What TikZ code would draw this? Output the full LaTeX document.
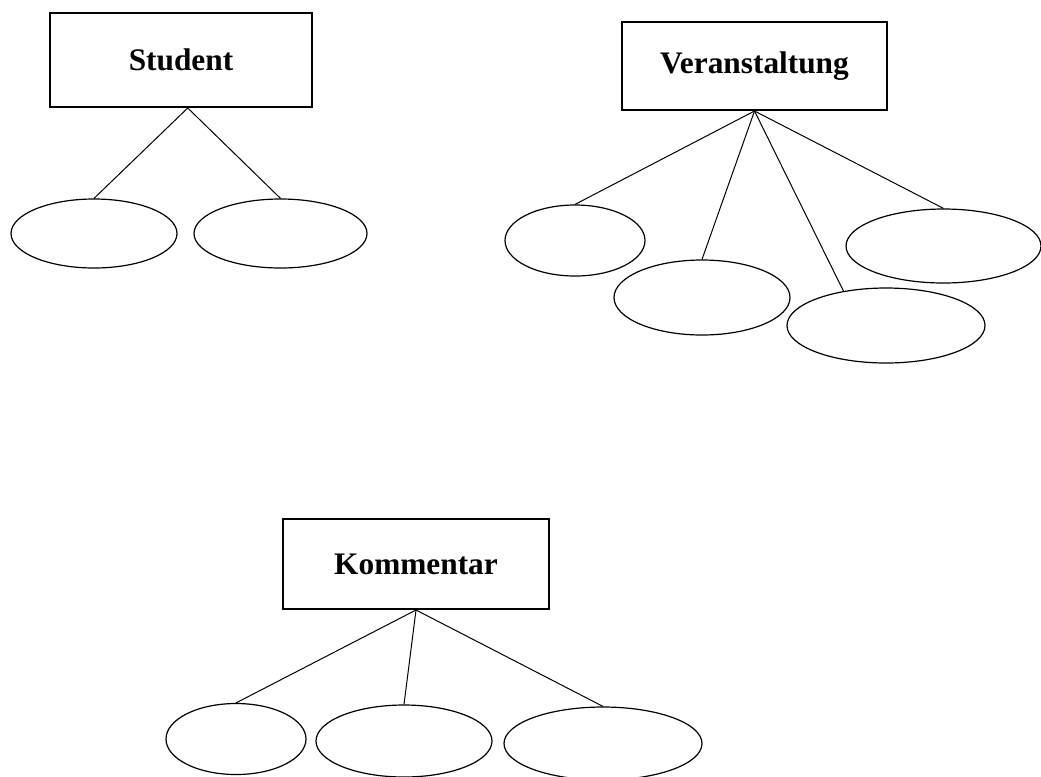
\documentclass[tikz,border=0pt]{standalone}
\usepackage{fontspec}
\setmainfont{Liberation Serif}
\usetikzlibrary{shapes.geometric}
\begin{document}
\begin{tikzpicture}[
        x=0.75pt, y=-0.75pt,
        bx/.style={draw, rectangle, line width=1.5pt, inner sep=0pt,
          font=\bfseries\fontsize{23.5}{28}\selectfont},
        el/.style={draw, ellipse, line width=0.9pt, inner sep=0pt},
        ed/.style={line width=0.75pt}
      ]
      \useasboundingbox (0,0) rectangle (1041,776);
      \clip (0,0) rectangle (1041,776);
      % entities
      \node[bx, minimum width=196.5pt, minimum height=70.5pt] (s) at (181,60) {Student};
      \node[bx, minimum width=198.75pt, minimum height=66pt] (v) at (754.5,66) {Veranstaltung};
      \node[bx, minimum width=199.5pt, minimum height=67.5pt] (k) at (416,564) {Kommentar};
      % attributes
      \node[el, minimum width=124.5pt, minimum height=51.75pt] (s1) at (94,233.5) {};
      \node[el, minimum width=129.75pt, minimum height=51.75pt] (s2) at (280.5,233.5) {};
      \node[el, minimum width=105pt, minimum height=53.25pt] (v1) at (575,240.5) {};
      \node[el, minimum width=132pt, minimum height=56.25pt] (v2) at (702,297.5) {};
      \node[el, minimum width=148.5pt, minimum height=56.25pt] (v3) at (886,325.5) {};
      \node[el, minimum width=146.25pt, minimum height=55.5pt] (v4) at (943.5,246) {};
      \node[el, minimum width=105pt, minimum height=53.25pt] (k1) at (236,739) {};
      \node[el, minimum width=132pt, minimum height=54pt] (k2) at (404,741) {};
      \node[el, minimum width=148.5pt, minimum height=54.75pt] (k3) at (603,743.5) {};
      \foreach \a in {s1,s2} {
        \draw[ed] (s.-82) -- (\a.north);
      }
      \foreach \a in {v1.north,v2.north,v3.141,v4.north} {
        \draw[ed] (v.south) -- (\a);
      }
      \foreach \a in {k1,k2,k3} {
        \draw[ed] (k.south) -- (\a.north);
      }
\end{tikzpicture}
\end{document}
